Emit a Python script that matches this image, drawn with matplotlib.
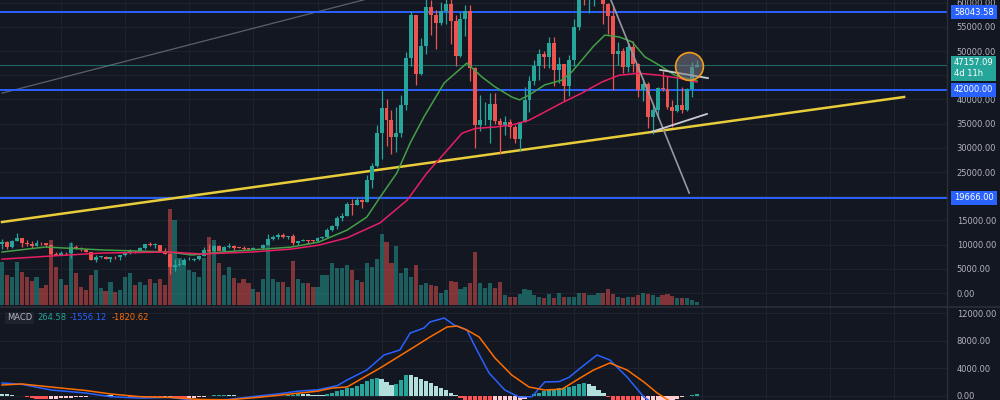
import matplotlib
matplotlib.use("Agg")
import matplotlib.pyplot as plt
from matplotlib.ticker import FuncFormatter

# ---------------- data (weekly BTC candles, Jul 2019 - Mar 2022) ----------------
OPEN = [10200,10540,9500,10800,11380,10300,10140,9780,10400,10280,9980,8050,7880,8280,8220,9550,9200,9030,8500,6900,
        7400,7500,7100,7500,7380,7760,8190,8700,8600,9380,10150,9900,9950,8530,8030,5370,5820,5880,6770,6900,
        7120,7700,8900,8720,9680,8720,9450,9750,9380,9300,9100,9070,9250,9200,9950,11100,11650,11900,11650,11700,
        10250,10650,10900,10750,10700,11350,11500,13000,13750,15450,16000,18400,18150,19150,18800,23450,26250,33000,38200,35800,
        32250,33100,38800,48600,57500,45150,51000,59000,57350,55800,58200,59750,56150,49000,56600,58250,46450,34700,35650,35800,
        39100,35600,34700,35300,34250,31800,35400,39850,43800,47000,49300,48800,51750,46050,47250,42800,48200,54950,61500,60850,
        61300,63300,65500,59700,57300,49400,50100,46700,50800,47300,41850,43100,36300,37900,42400,42250,38400,37700,38800,37800,
        42250,46800]
HIGH = [11100,10650,10950,12330,11450,10950,10650,10900,10480,10350,10050,8550,8680,8410,10540,9950,9600,9100,8500,7850,
        7750,7650,7500,7700,7600,8450,9190,8800,9600,10160,10500,10250,10000,9200,8200,6950,6950,7200,7480,7300,
        7780,9450,10060,9950,9900,9750,10400,10000,9600,9800,9300,9450,9300,10200,12100,12000,12480,12480,11800,12100,
        10800,11200,11000,10950,11500,11700,13350,14050,15950,16500,18800,19400,19900,19400,24300,26900,34800,41950,40100,37850,
        38500,40950,49700,58350,57500,52650,61800,60600,58400,60100,61300,64850,57500,58000,59500,59600,46650,40850,39500,41300,
        41350,36150,36650,35950,34700,35400,42600,44800,48150,50500,50000,52900,52950,48850,47350,49200,56550,62950,67000,63700,
        64300,69000,66300,59900,59200,51950,50600,51900,52100,47600,44500,43500,38950,42650,45850,44750,39800,45400,42550,42350,
        47700,48200]
LOW = [9100,9180,9400,10750,9500,9800,9350,9750,9880,9600,7700,7800,7770,7920,7300,9000,8700,8400,6800,6500,
       7150,7050,6450,7050,6850,7700,8100,8250,8550,9100,9700,9300,8500,8000,3850,4450,5650,5860,6770,6550,
       6800,7650,8100,8200,8800,8650,9250,8900,9200,8850,8950,9050,9050,9150,9900,11000,11150,11400,11100,9900,
       9900,10650,10100,10400,10550,11200,11400,12900,13200,14800,15850,16200,18100,17600,18800,21800,26000,27700,30400,28800,
       29200,32300,37900,47000,43000,45000,49300,53300,50400,55400,55500,51500,47000,48800,53000,43800,30000,33400,34800,31000,
       34850,28800,32700,32100,31000,29300,35300,37500,43000,43950,46400,46500,42800,43400,39600,40750,46900,54400,59500,57800,
       59400,62300,55600,53500,42000,47100,45500,45600,45700,40500,39650,34000,32950,36200,41700,37950,34300,37450,37150,37550,
       40500,46600]
CLOSE = [10540,9500,10800,11380,10300,10140,9780,10400,10280,9980,8050,7880,8280,8220,9550,9200,9030,8500,6900,7400,
         7500,7100,7500,7380,7760,8190,8700,8600,9380,10150,9900,9950,8530,8030,5370,5820,5880,6770,6900,7120,
         7700,8900,8720,9680,8720,9450,9750,9380,9300,9100,9070,9250,9200,9950,11100,11650,11900,11650,11700,10250,
         10650,10900,10750,10700,11350,11500,13000,13750,15450,16000,18400,18150,19150,18800,23450,26250,33000,38200,35800,32250,
         33100,38800,48600,57500,45150,51000,59000,57350,55800,58200,59750,56150,49000,56600,58250,46450,34700,35650,35800,39100,
         35600,34700,35300,34250,31800,35400,39850,43800,47000,49300,48800,51750,46050,47250,42800,48200,54950,61500,60850,61300,
         63300,65500,59700,57300,49400,50100,46700,50800,47300,41850,43100,36300,37900,42400,42250,38400,37700,38800,37800,42250,
         46800,47157.09]
VOLUME = [430,300,280,430,330,280,240,280,170,200,650,380,260,200,620,320,180,150,300,350,
          170,140,230,130,150,280,320,200,230,200,260,220,260,200,960,850,470,400,350,330,
          280,470,680,650,420,300,380,270,220,260,220,160,130,260,650,260,230,230,180,440,
          260,220,220,180,180,300,300,420,370,370,400,350,250,230,420,380,460,710,630,420,
          590,320,370,280,400,200,220,200,190,120,150,240,230,160,180,220,530,220,170,220,
          170,230,100,80,80,110,160,150,100,80,70,110,70,120,80,80,80,120,120,100,
          100,120,120,160,110,80,70,80,80,100,120,110,100,80,100,110,90,70,70,70,
          50,30]

GREEN_MA_IDX = [0,8.7,20.3,33.9,38.5,44.6,53.3,58.8,64.3,70,74,76.7,80.1,82.8,85.6,89.7,94.3,97.4,100,103.4,
                105,106.9,110.1,113.6,115.6,117.6,120,122.3,125.2,127.8,130.4,133.3,136.5,140,141]
GREEN_MA = [8470,9500,8900,8470,7850,8470,9090,9500,10540,13000,15700,19800,24800,31000,36400,43400,47500,44600,42600,40500,
            39900,40900,43000,44000,45700,48100,51000,53300,52900,51900,48800,47100,45000,44000,43800]
RED_MA_IDX = [0,10.1,20.3,33.9,40.6,50.7,58.8,64.3,70,76.7,82.2,86.2,90.3,93.3,96,100,103.4,106.9,110.1,113.6,
              117.6,121.7,125.2,129.2,133.3,137.3,141]
RED_MA = [7000,7650,8260,8470,8060,8470,9090,9900,11400,14500,19200,24800,29500,33000,34000,34300,34700,35700,37400,39300,
          41300,43600,45000,45400,45000,44400,43600]

MACD_IDX = [0,4,10,17,22,28,34,40,46,52,56,60,64,68,70,74,77.5,80.7,82.8,85.6,
            86.8,89.7,91.7,94.3,96,98.8,102,104.9,107.5,110.1,113,115,117.6,120.7,123.3,126.8,130.2,134,141]
MACD_VAL = [1890,1700,870,430,-100,-300,-200,-700,-500,0,300,700,900,1500,2330,3780,5960,6690,9160,9890,
            10760,11350,10330,9600,7130,3350,870,-150,-100,2040,2100,2700,4220,5960,5240,2760,-150,-2000,-1556.12]
SIG_IDX = [0,4,10,17,22,28,34,40,46,52,56,60,64,67,70,76.7,83.6,86.8,90.3,92.3,
           94.3,96.8,100,103.4,106.9,110.1,113.6,117.6,120,123.3,126.8,130.2,132.9,136,141]
SIG_VAL = [1600,1750,1300,800,300,-100,-200,-500,-550,-200,100,400,700,1160,1310,4070,7130,8580,10040,10180,
           9600,8580,5530,3050,1310,870,1000,2760,3780,4800,3780,2040,440,-1000,-1820.62]
HIST = [300,250,150,50,-50,-150, -300,-400,-450,-450,-430,-400, -350,-300,-250,-200,-150,-100,
        -50,0,50,100,80,50, 20,-50,-100,-150,-200,-250, -300,-350,-350,-300,-250,-350,
        -450,-450,-400,-300,-200,-100, 0,100,150,200,150,100, 50,20,-20,-50,-80,-100,
        -80,-40,0,50,100,200, 300,300,250,200,150,150, 300,500,700,900,1100,1200,
        1400,1800,2200,2500,2600,2400, 2000,1600,1700,2300,3000,3000, 2800,2500,2200,1900,1500,1200,
        800,400,100,-300,-800,-1300, -1800,-2500,-3000,-3000,-2800,-2500, -2100,-1700,-1300,-900,-500,0,
        300,500,700,900,1000,1100, 1200,1300,1500,1800,1900,1700, 1400,900,400,-200,-800,-1400,
        -1800,-2100,-2300,-2300,-2200,-2000, -1700,-1400,-1100,-800,-600,-400, -200,0,150,264.58]

H_LEVELS = [58043.58, 42000.00, 19666.00]
LAST_PRICE = 47157.09
COUNTDOWN = "4d 11h"
YELLOW_LINE = ([0, 183], [14670, 40500])
GRAY_LINE_TL = ([0, 81.1], [41300, 62600])
GRAY_LINE_DOWN = ([122.7, 139.4], [62600, 20660])
WHITE_LINE_LOW = ([131.8, 143.0], [33300, 37000])
WHITE_LINE_MID = ([133.5, 143.2], [46100, 44400])
CIRCLE = (139.4, 46900)
PRICE_GRID = list(range(0, 60001, 5000))
PRICE_LABELS = [0, 5000, 10000, 15000, 25000, 30000, 35000, 40000, 50000, 55000, 60000]
MACD_TICKS = [0, 4000, 8000, 12000]

# ---------------- style ----------------
BG = '#131722'
GRID = '#1e222d'
UP = '#26a69a'
DN = '#ef5350'
TXT = '#b2b5be'
plt.rcParams['font.family'] = ['DejaVu Sans']

W, H = 1000, 400
fig = plt.figure(figsize=(10, 4), dpi=100, facecolor=BG)
rect_p = [0, 93 / H, 947 / W, 307 / H]
rect_m = [0, 0, 947 / W, 92 / H]

axv = fig.add_axes(rect_p)
ax = fig.add_axes(rect_p, sharex=axv)
axm = fig.add_axes(rect_m, sharex=axv)
axv.set_facecolor(BG)
ax.set_facecolor('none')
axm.set_facecolor(BG)

n = len(CLOSE)
xs = list(range(n))
axv.set_xlim(-0.41, 191.7)
ax.set_ylim(-2890, 60540)
axv.set_ylim(-20, 3050)
axm.set_ylim(-582, 12800)

# grid (behind volume)
for gx in range(12, 192, 13):
    axv.axvline(gx, color=GRID, lw=0.8, zorder=0)
    axm.axvline(gx, color=GRID, lw=0.8, zorder=0)
for p in PRICE_GRID:
    axv.plot([0, 1], [p, p], transform=ax.get_yaxis_transform(), color=GRID, lw=0.8, zorder=0)
for m in MACD_TICKS:
    axm.axhline(m, color=GRID, lw=0.8, zorder=0)

# volume
vcol = [UP if c >= o else DN for o, c in zip(OPEN, CLOSE)]
axv.bar(xs, VOLUME, width=0.84, color=vcol, alpha=0.5, zorder=1, linewidth=0)

# price lines / drawings
ax.plot(*GRAY_LINE_TL, color='#5d606b', lw=0.9, zorder=2)
for lv in H_LEVELS:
    ax.axhline(lv, color='#2962ff', lw=1.4, zorder=2)
ax.axhline(LAST_PRICE, color=UP, lw=0.8, alpha=0.55, zorder=2)
ax.plot(*YELLOW_LINE, color='#e8cc3a', lw=1.8, zorder=4)

# candles
for i in xs:
    o, h, l, c = OPEN[i], HIGH[i], LOW[i], CLOSE[i]
    col = UP if c >= o else DN
    ax.vlines(i, l, h, color=col, lw=0.9, zorder=5)
    lo, hi = min(o, c), max(o, c)
    ax.bar(i, max(hi - lo, 150), bottom=lo, width=0.8, color=col, linewidth=0, zorder=5)

ax.plot(GREEN_MA_IDX, GREEN_MA, color='#43a047', lw=1.1, zorder=6)
ax.plot(RED_MA_IDX, RED_MA, color='#e91e63', lw=1.1, zorder=6)

ax.plot(*GRAY_LINE_DOWN, color='#9598a1', lw=1.2, zorder=7)
ax.plot(*WHITE_LINE_LOW, color='#c9cbd1', lw=1.3, zorder=7)
ax.plot(*WHITE_LINE_MID, color='#c9cbd1', lw=1.3, zorder=7)
ax.scatter([CIRCLE[0]], [CIRCLE[1]], s=400, facecolor=(0.47, 0.48, 0.53, 0.55),
           edgecolor='#f59c1a', linewidth=1.2, zorder=8)

# MACD pane
hcols = []
prev = None
for hv in HIST:
    rising = prev is not None and hv > prev
    if hv >= 0:
        hcols.append('#26a69a' if rising else '#b2dfdb')
    else:
        hcols.append('#ffcdd2' if rising else '#ff5252')
    prev = hv
axm.bar(xs, HIST, width=0.85, color=hcols, linewidth=0, zorder=2)
axm.plot(MACD_IDX, MACD_VAL, color='#2962ff', lw=1.1, zorder=3)
axm.plot(SIG_IDX, SIG_VAL, color='#ff6d00', lw=1.1, zorder=3)

# axes cosmetics
for a in (axv, ax, axm):
    for s in a.spines.values():
        s.set_visible(False)
    a.tick_params(axis='x', bottom=False, labelbottom=False)
axv.set_yticks([])
fmt = FuncFormatter(lambda v, p: f"{v:.2f}")
for a, ticks in ((ax, PRICE_LABELS), (axm, MACD_TICKS)):
    a.yaxis.tick_right()
    a.set_yticks(ticks)
    a.yaxis.set_major_formatter(fmt)
    a.tick_params(axis='y', length=0, pad=7, labelsize=6, labelcolor=TXT)

# separators
fig.add_artist(plt.Line2D([947 / W, 947 / W], [0, 1], color='#2a2e39', lw=1))
fig.add_artist(plt.Line2D([0, 1], [93 / H, 93 / H], color='#2a2e39', lw=1.2))

# price tag boxes
tr = ax.get_yaxis_transform()
for lv in H_LEVELS:
    ax.text(1.0075, lv, f"{lv:.2f}", transform=tr, ha='left', va='center', fontsize=6,
            color='white', zorder=20, clip_on=False,
            bbox=dict(boxstyle='square,pad=0.32', fc='#2962ff', ec='none'))
ax.text(1.0075, 48500, f"{LAST_PRICE:.2f}\n{COUNTDOWN}", transform=tr, ha='left', va='top',
        fontsize=6, color='white', zorder=20, clip_on=False, linespacing=1.25,
        bbox=dict(boxstyle='square,pad=0.32', fc='#26a69a', ec='none'))

# MACD legend
ytxt = 1 - 318 / H
fig.text(7 / W, ytxt, "MACD", fontsize=6, color=TXT, va='center', ha='left',
         bbox=dict(boxstyle='square,pad=0.2', fc='#1e222d', ec='none'))
fig.text(37 / W, ytxt, f"{HIST[-1]:.2f}", fontsize=6, color='#26a69a', va='center', ha='left')
fig.text(70 / W, ytxt, f"{MACD_VAL[-1]:.2f}", fontsize=6, color='#2962ff', va='center', ha='left')
fig.text(112 / W, ytxt, f"{SIG_VAL[-1]:.2f}", fontsize=6, color='#ff6d00', va='center', ha='left')

fig.savefig('out.png', dpi=100, facecolor=BG)
